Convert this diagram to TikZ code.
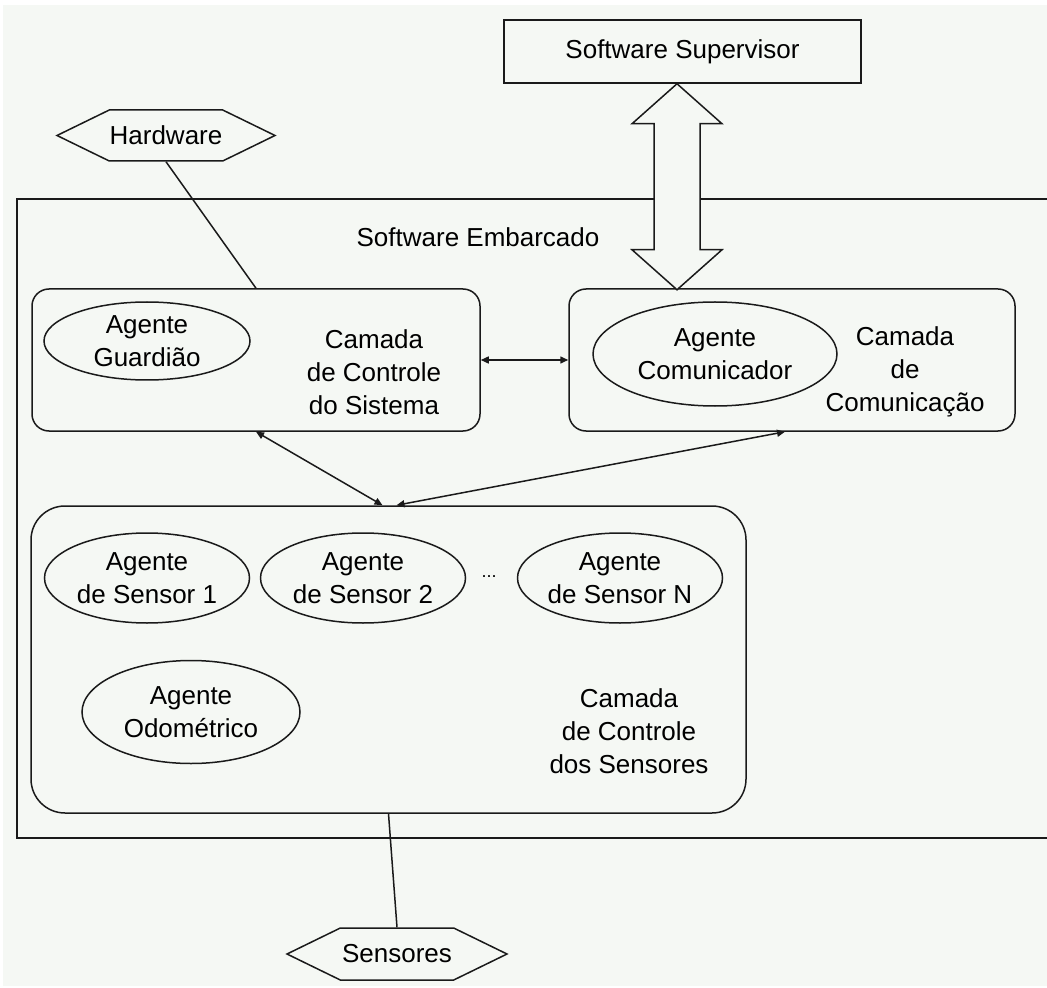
\documentclass[tikz,border=0pt]{standalone}
\usepackage{fontspec}
\setmainfont{Liberation Sans}
\usepackage{xcolor}
\usepackage{tikz}
\usetikzlibrary{arrows.meta,positioning,shapes.geometric,shapes.symbols,calc}
\definecolor{paper}{HTML}{F5F8F4}
\definecolor{ink}{HTML}{1A1A1A}
\tikzset{
  frame/.style={draw=ink, line width=0.75pt, inner sep=0pt},
  layer/.style={draw=ink, rounded corners=8.5pt, line width=0.75pt, inner sep=0pt},
  agent/.style={draw=ink, ellipse, align=center, line width=0.75pt, inner sep=0pt},
  extern/.style={draw=ink, signal, signal to=east and west, signal pointer angle=52, line width=0.75pt, inner sep=0pt, fill=paper},
  caption/.style={align=center},
  arrow/.style={{Triangle[length=4pt,width=3.5pt]}-{Triangle[length=4pt,width=3.5pt]}, draw=ink, line width=0.75pt},
  link/.style={draw=ink, line width=0.75pt},
  blockarrow/.style={draw=ink, fill=paper, line width=0.75pt}
}

\begin{document}
\begin{tikzpicture}[x=0.5pt, y=-0.5pt, font=\fontsize{13}{16.5}\selectfont]
  \path[use as bounding box, fill=white] (0,0) rectangle (1047,988);
  \fill[paper] (3,5) rectangle (1047,986);

  % embedded software frame
  \node[frame, minimum width=519pt, minimum height=319.5pt] (emb) at (536,518.5) {};
  \node[caption] (emblbl) at (478,237) {Software Embarcado};

  \node[frame, minimum width=178.5pt, minimum height=31.5pt] (sup) at (682.5,51.5) {Software Supervisor};
  \node[extern, minimum width=109pt, minimum height=25.5pt] (hw) at (166,135.5) {Hardware};

  % system control layer
  \node[layer, minimum width=224pt, minimum height=71pt] (sys) at (256,360) {};
  \node[agent, minimum width=103pt, minimum height=39pt] (grd) at (147,341) {Agente\\Guardião};
  \node[caption] (syslbl) at (374,372) {Camada\\de Controle\\do Sistema};

  % communication layer
  \node[layer, minimum width=223pt, minimum height=71pt] (com) at (792,360) {};
  \node[agent, minimum width=122pt, minimum height=52pt] (cmt) at (715,354) {Agente\\Comunicador};
  \node[caption] (comlbl) at (905,372) {Camada\\de\\Comunicação};

  % sensor control layer
  \node[layer, rounded corners=17pt, minimum width=357.5pt, minimum height=153.5pt] (sen) at (388.5,659.5) {};
  \node[agent, minimum width=102.5pt, minimum height=45pt] (sn1) at (147,578) {Agente\\de Sensor 1};
  \node[agent, minimum width=102.5pt, minimum height=45pt] (sn2) at (363,578) {Agente\\de Sensor 2};
  \node[font=\fontsize{9}{9}\selectfont] (dots) at (489,577) {...};
  \node[agent, minimum width=102.5pt, minimum height=45pt] (snN) at (620,578) {Agente\\de Sensor N};
  \node[agent, minimum width=109pt, minimum height=51.5pt] (odo) at (191,712) {Agente\\Odométrico};
  \node[caption] (senlbl) at (629,731) {Camada\\de Controle\\dos Sensores};

  \node[extern, minimum width=110pt, minimum height=26pt] (sns) at (397,954) {Sensores};

  \draw[link] (hw.south) -- (sys.north);
  \draw[link] (sen.south) -- (sns.north);
  \draw[arrow] (sys.east) -- (com.west);
  \draw[arrow] (sys.south) -- ([xshift=-3pt]sen.north);
  \draw[arrow] ([xshift=-3.5pt]com.south) -- ([xshift=4pt]sen.north);
  \draw[blockarrow] ([xshift=-2.75pt]sup.south) -- ++(-45,40) -- ++(22,0) -- ++(0,126) -- ++(-22,0)
    -- ++(45,40) -- ++(45,-40) -- ++(-22,0) -- ++(0,-126) -- ++(22,0) -- cycle;
\end{tikzpicture}
\end{document}
